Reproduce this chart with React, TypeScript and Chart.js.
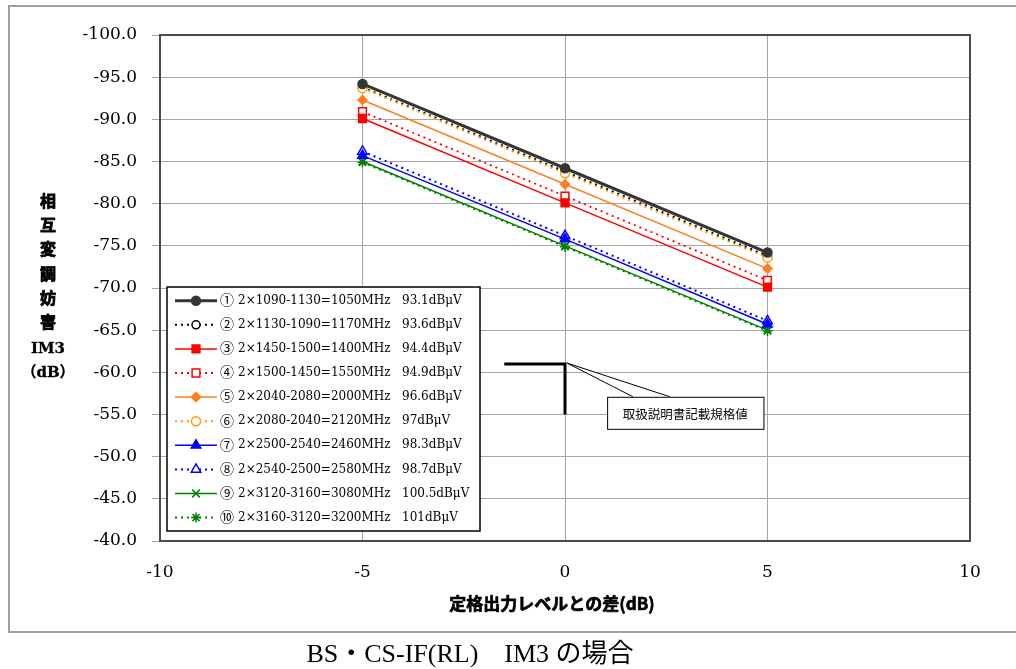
import React, { useEffect, useRef } from 'react';
import { Chart, registerables } from 'chart.js';
import { drawPoint } from 'chart.js/helpers';

Chart.register(...registerables);

// ---- data ----
const xLevels = [-5, 0, 5];
const s1 = [-94.2, -84.2, -74.2];
const s2 = [-93.8, -83.8, -73.8];
const s3 = [-90.1, -80.1, -70.1];
const s4 = [-90.9, -80.9, -70.9];
const s5 = [-92.3, -82.3, -72.3];
const s6 = [-93.7, -83.6, -73.6];
const s7 = [-85.7, -75.8, -65.7];
const s8 = [-86.2, -76.2, -66.1];
const s9 = [-85.0, -75.0, -65.0];
const s10 = [-84.9, -74.9, -64.9];
const seriesValues = [s1, s2, s3, s4, s5, s6, s7, s8, s9, s10];

const seriesNumbers = ['①', '②', '③', '④', '⑤', '⑥', '⑦', '⑧', '⑨', '⑩'];
const seriesLabels = [
  '2×1090-1130=1050MHz',
  '2×1130-1090=1170MHz',
  '2×1450-1500=1400MHz',
  '2×1500-1450=1550MHz',
  '2×2040-2080=2000MHz',
  '2×2080-2040=2120MHz',
  '2×2500-2540=2460MHz',
  '2×2540-2500=2580MHz',
  '2×3120-3160=3080MHz',
  '2×3160-3120=3200MHz',
];
const seriesLevels = [
  '93.1dBμV', '93.6dBμV', '94.4dBμV', '94.9dBμV', '96.6dBμV',
  '97dBμV', '98.3dBμV', '98.7dBμV', '100.5dBμV', '101dBμV',
];

const specX = [-1.5, 0, 0];
const specY = [-61, -61, -55];
const calloutText = '取扱説明書記載規格値';

const yTitleLines = ['相', '互', '変', '調', '妨', '害', 'IM3', '（dB）'];
const xTitle = '定格出力レベルとの差(dB)';
const caption = 'BS・CS-IF(RL)　IM3 の場合';

// ---- styles ----
const colors = ['#353535', '#000000', '#ff0000', '#ff0000', '#ff7f1e', '#ff9900', '#0000ff', '#0000ff', '#008000', '#008000'];
const lineWidths = [3, 2, 1.5, 1.8, 1.5, 2, 1.5, 2, 1.5, 2];
const dashes = [[], [2, 4], [], [2, 4], [], [2, 4], [], [2, 4], [], [2, 4]];
const pointStyles = ['circle', 'circle', 'rect', 'rect', 'rectRot', 'circle', 'triangle', 'triangle', 'crossRot', 'star'];
const filled = [true, false, true, false, true, false, true, false, true, true];
const radii = [4.5, 4, 5.5, 5.5, 4.5, 4.5, 5.5, 5.5, 5.5, 5];
const drawOrder = [0, 2, 3, 4, 5, 1, 6, 7, 8, 9];

const SERIF = "'DejaVu Serif', 'DejaVu Sans', 'Noto Sans CJK JP', serif";
const GOTHIC = "'Noto Sans CJK JP', sans-serif";

const callout = { x1: 1.04, x2: 4.9, yTop: -57.1, yBottom: -53.3, tipX: 0.05, tipY: -61.1, baseX1: 1.68, baseX2: 2.59 };

function heavyText(ctx: CanvasRenderingContext2D, t: string, x: number, y: number, w: number) {
  ctx.lineWidth = w;
  ctx.strokeStyle = '#000';
  ctx.lineJoin = 'round';
  ctx.strokeText(t, x, y);
  ctx.fillText(t, x, y);
}

const decorPlugin = {
  id: 'decor',
  beforeDraw(chart: any) {
    const ctx = chart.ctx;
    ctx.save();
    ctx.fillStyle = '#ffffff';
    ctx.fillRect(0, 0, chart.width, chart.height);
    ctx.strokeStyle = '#a0a0a0';
    ctx.lineWidth = 2;
    ctx.strokeRect(9, 6, chart.width + 10, 626);
    ctx.restore();
  },
  beforeDatasetsDraw(chart: any) {
    const ctx = chart.ctx;
    const a = chart.chartArea;
    const xs = chart.scales.x;
    const ys = chart.scales.y;
    ctx.save();
    ctx.strokeStyle = '#4a4a4a';
    ctx.lineWidth = 2;
    ctx.strokeRect(a.left, a.top, a.right - a.left, a.bottom - a.top);
    // spec line
    ctx.strokeStyle = '#000';
    ctx.lineWidth = 3;
    ctx.lineJoin = 'miter';
    ctx.beginPath();
    specX.forEach((v, i) => {
      const px = xs.getPixelForValue(v);
      const py = ys.getPixelForValue(specY[i]);
      if (i === 0) ctx.moveTo(px, py); else ctx.lineTo(px, py);
    });
    ctx.stroke();
    // callout
    const bx1 = xs.getPixelForValue(callout.x1);
    const bx2 = xs.getPixelForValue(callout.x2);
    const by1 = ys.getPixelForValue(callout.yTop);
    const by2 = ys.getPixelForValue(callout.yBottom);
    const tx = xs.getPixelForValue(callout.tipX);
    const ty = ys.getPixelForValue(callout.tipY);
    ctx.lineWidth = 1;
    ctx.beginPath();
    ctx.moveTo(xs.getPixelForValue(callout.baseX1), by1);
    ctx.lineTo(tx, ty);
    ctx.lineTo(xs.getPixelForValue(callout.baseX2), by1);
    ctx.fillStyle = '#fff';
    ctx.fill();
    ctx.stroke();
    ctx.fillRect(bx1, by1, bx2 - bx1, by2 - by1);
    ctx.strokeRect(bx1 + 0.5, by1 + 0.5, bx2 - bx1, by2 - by1);
    ctx.fillStyle = '#000';
    ctx.font = `12.5px ${GOTHIC}`;
    ctx.textAlign = 'center';
    ctx.textBaseline = 'middle';
    ctx.fillText(calloutText, (bx1 + bx2) / 2, (by1 + by2) / 2 + 1);
    ctx.restore();
  },
  afterDraw(chart: any) {
    const ctx = chart.ctx;
    ctx.save();
    // legend
    const lx = 167, ly = 287, lw = 313, lh = 244;
    ctx.fillStyle = '#fff';
    ctx.fillRect(lx, ly, lw, lh);
    ctx.strokeStyle = '#000';
    ctx.lineWidth = 1.5;
    ctx.strokeRect(lx, ly, lw, lh);
    seriesLabels.forEach((label, i) => {
      const y = ly + 13.7 + i * 24.1;
      ctx.save();
      ctx.strokeStyle = colors[i];
      ctx.lineWidth = lineWidths[i];
      ctx.setLineDash(dashes[i]);
      ctx.beginPath();
      ctx.moveTo(lx + 8, y);
      ctx.lineTo(lx + 50, y);
      ctx.stroke();
      ctx.setLineDash([]);
      ctx.fillStyle = filled[i] ? colors[i] : '#ffffff';
      ctx.strokeStyle = colors[i];
      ctx.lineWidth = 1.5;
      drawPoint(ctx, { pointStyle: pointStyles[i], radius: radii[i], borderWidth: 1.5, rotation: 0 } as any, lx + 29, y);
      ctx.restore();
      ctx.fillStyle = '#000';
      ctx.textAlign = 'left';
      ctx.textBaseline = 'middle';
      ctx.font = `14px 'Noto Sans CJK JP', sans-serif`;
      ctx.fillText(seriesNumbers[i], lx + 53, y - 1);
      ctx.font = `12px ${SERIF}`;
      ctx.fillText(label, lx + 71, y);
      ctx.fillText(seriesLevels[i], lx + 235, y);
    });
    // y title
    ctx.fillStyle = '#000';
    ctx.textAlign = 'center';
    ctx.textBaseline = 'middle';
    yTitleLines.forEach((t, i) => {
      const isKanji = i < 6;
      ctx.font = isKanji ? `bold 16px ${GOTHIC}` : `bold 15px ${SERIF}`;
      const y = 201 + i * 24.2 + (isKanji ? 0 : 3);
      heavyText(ctx, t, 48, y, isKanji ? 0.8 : 0.3);
    });
    // x title
    ctx.font = `bold 17px ${GOTHIC}`;
    heavyText(ctx, xTitle, 552, 604, 0.7);
    // caption
    ctx.font = `26px 'Liberation Serif', 'Noto Sans CJK JP', serif`;
    ctx.fillText(caption, 470, 655);
    ctx.restore();
  },
};

export default function App() {
  const ref = useRef<HTMLCanvasElement | null>(null);
  useEffect(() => {
    document.body.style.margin = '0';
    const canvas = ref.current;
    if (!canvas) return;
    const datasets = seriesValues.map((vals, i) => ({
      label: `${seriesNumbers[i]} ${seriesLabels[i]}  ${seriesLevels[i]}`,
      data: vals.map((v, j) => ({ x: xLevels[j], y: v })),
      borderColor: colors[i],
      backgroundColor: colors[i],
      borderWidth: lineWidths[i],
      borderDash: dashes[i],
      pointStyle: pointStyles[i],
      pointRadius: radii[i],
      pointBorderWidth: 1.5,
      pointBackgroundColor: filled[i] ? colors[i] : '#ffffff',
      pointBorderColor: colors[i],
      tension: 0,
      fill: false,
      order: drawOrder[i],
    }));
    const chart = new Chart(canvas, {
      type: 'line',
      data: { datasets },
      options: {
        animation: false,
        responsive: false,
        layout: { padding: { left: 60, top: 35, right: 46, bottom: 88 } },
        plugins: { legend: { display: false }, tooltip: { enabled: false } },
        scales: {
          x: {
            type: 'linear',
            min: -10,
            max: 10,
            ticks: { stepSize: 5, color: '#000', padding: 21, font: { family: SERIF, size: 17 } },
            grid: { color: '#a6a6a6', drawTicks: false, tickLength: 0 },
            border: { display: false },
            afterFit: (s: any) => { s.height = 40; },
          },
          y: {
            type: 'linear',
            min: -100,
            max: -40,
            reverse: true,
            ticks: {
              stepSize: 5,
              color: '#000',
              padding: 15,
              font: { family: SERIF, size: 17 },
              callback: (v: any) => Number(v).toFixed(1),
            },
            grid: { color: '#a6a6a6', drawTicks: true, tickLength: 8 },
            border: { display: false },
            afterFit: (s: any) => { s.width = 100; },
          },
        },
      },
      plugins: [decorPlugin],
    } as any);
    return () => chart.destroy();
  }, []);
  return (
    <div style={{ width: 1016, height: 669 }}>
      <canvas ref={ref} width={1016} height={669} style={{ display: 'block' }} />
    </div>
  );
}
